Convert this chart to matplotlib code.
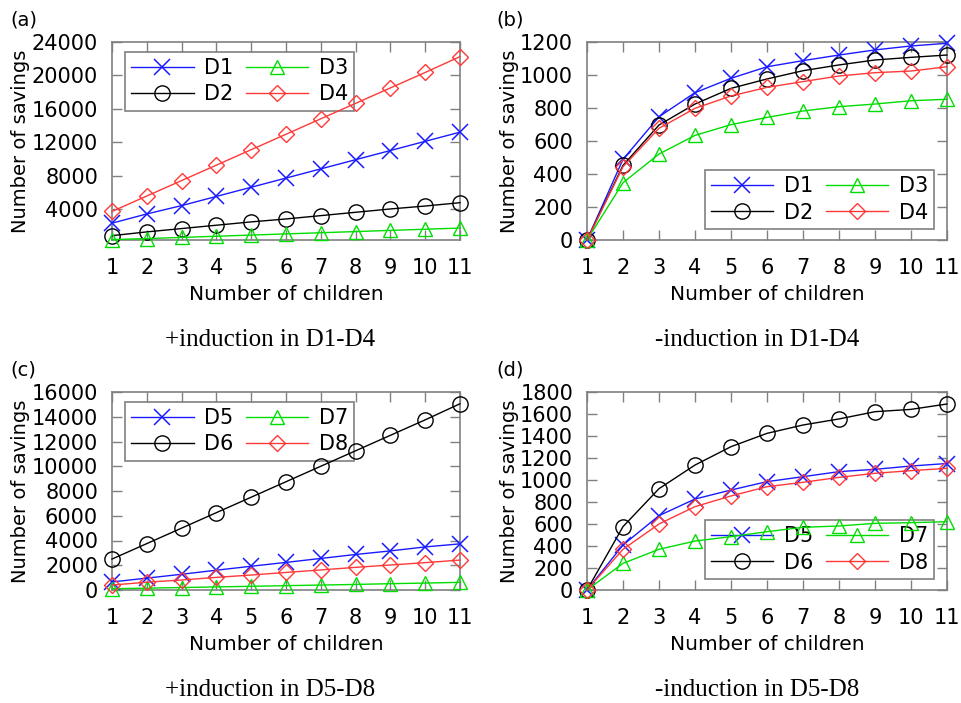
import numpy as np
import matplotlib
matplotlib.use('Agg')
import matplotlib.pyplot as plt

# data
children = [1, 2, 3, 4, 5, 6, 7, 8, 9, 10, 11]

# (a) +induction in D1-D4
a_d1 = [2300, 3400, 4400, 5500, 6600, 7700, 8800, 9900, 11000, 12100, 13200]
a_d2 = [800, 1250, 1650, 2050, 2450, 2800, 3200, 3600, 4000, 4350, 4750]
a_d3 = [330, 450, 590, 730, 870, 1010, 1150, 1290, 1430, 1570, 1710]
a_d4 = [3700, 5550, 7400, 9250, 11100, 12950, 14800, 16650, 18500, 20350, 22250]

# (b) -induction in D1-D4
b_d1 = [0, 489, 747, 893, 980, 1050, 1087, 1121, 1152, 1176, 1192]
b_d2 = [0, 452, 697, 824, 919, 976, 1026, 1061, 1091, 1107, 1121]
b_d3 = [0, 347, 521, 634, 699, 743, 782, 808, 824, 844, 853]
b_d4 = [0, 444, 677, 798, 873, 925, 960, 994, 1014, 1024, 1050]

# (c) +induction in D5-D8
c_d5 = [650, 960, 1270, 1600, 1920, 2230, 2550, 2870, 3160, 3480, 3730]
c_d6 = [2500, 3750, 5000, 6250, 7500, 8750, 10000, 11250, 12500, 13750, 15050]
c_d7 = [100, 150, 200, 250, 300, 350, 400, 450, 510, 560, 620]
c_d8 = [400, 630, 810, 1020, 1210, 1420, 1620, 1830, 2020, 2210, 2420]

# (d) -induction in D5-D8
d_d5 = [0, 409, 676, 827, 909, 985, 1030, 1076, 1097, 1127, 1150]
d_d6 = [0, 576, 921, 1136, 1303, 1424, 1500, 1555, 1621, 1642, 1691]
d_d7 = [0, 242, 370, 445, 485, 530, 570, 582, 606, 612, 621]
d_d8 = [0, 370, 600, 758, 855, 939, 979, 1024, 1061, 1085, 1106]

STYLES = [
    dict(color='#1a1aff', marker='x', ms=12, mew=1.1),
    dict(color='#000000', marker='o', ms=11, mfc='none', mew=1.0),
    dict(color='#00dd00', marker='^', ms=10, mfc='none', mew=1.0),
    dict(color='#ff3838', marker='D', ms=8, mfc='none', mew=1.0),
]
FRAME = '#808080'
FS = 15

W, H = 962, 703
fig = plt.figure(figsize=(W / 100, H / 100), dpi=100)


def px_axes(left, top, right, bottom):
    return fig.add_axes([left / W, 1 - bottom / H, (right - left) / W, (bottom - top) / H])


def panel(ax, series, names, ylim, yticks, leg_anchor, leg_loc, tag, caption, tag_x, cap_x, top_y):
    for values, name, st in zip(series, names, STYLES):
        ax.plot(children, values, label=name, lw=1.0, clip_on=False, zorder=3, **st)

    ax.set_xlim(1, 11)
    ax.set_ylim(*ylim)
    ax.set_xticks(children)
    ax.set_yticks(yticks)
    ax.tick_params(direction='in', length=7, width=1, color=FRAME, top=True, right=True,
                   labelsize=FS)
    ax.tick_params(axis='x', pad=13)
    ax.tick_params(axis='y', pad=10)
    for sp in ax.spines.values():
        sp.set_color(FRAME)
        sp.set_linewidth(1.2)
    ax.set_xlabel('Number of children', fontsize=14.5, labelpad=5)
    ax.set_ylabel('Number of savings', fontsize=14, labelpad=1)

    leg = ax.legend(ncol=2, loc=leg_loc, bbox_to_anchor=leg_anchor, fontsize=15,
                    fancybox=False, edgecolor=FRAME, framealpha=1, handlelength=3.0,
                    columnspacing=0.6, handletextpad=0.5, labelspacing=0.3,
                    borderpad=0.3, borderaxespad=0)
    leg.get_frame().set_linewidth(1.2)
    leg.set_zorder(1)

    fig.text(tag_x / W, 1 - top_y / H, tag, fontsize=14, ha='left', va='center')
    fig.text(cap_x / W, 1 - (top_y + 320) / H, caption, fontsize=18,
             family='Liberation Serif', ha='center', va='center')


ax_a = px_axes(112, 42, 460, 240)
panel(ax_a, [a_d1, a_d2, a_d3, a_d4], ['D1', 'D2', 'D3', 'D4'],
      (280, 24000), [4000, 8000, 12000, 16000, 20000, 24000],
      (0.037, 0.95), 'upper left', '(a)', '+induction in D1-D4', 10, 270, 20)

ax_b = px_axes(587, 42, 947, 240)
panel(ax_b, [b_d1, b_d2, b_d3, b_d4], ['D1', 'D2', 'D3', 'D4'],
      (0, 1200), [0, 200, 400, 600, 800, 1000, 1200],
      (0.964, 0.056), 'lower right', '(b)', '-induction in D1-D4', 496, 757, 20)

ax_c = px_axes(112, 392, 460, 590)
panel(ax_c, [c_d5, c_d6, c_d7, c_d8], ['D5', 'D6', 'D7', 'D8'],
      (0, 16000), list(range(0, 16001, 2000)),
      (0.037, 0.95), 'upper left', '(c)', '+induction in D5-D8', 10, 270, 370)

ax_d = px_axes(587, 392, 947, 590)
panel(ax_d, [d_d5, d_d6, d_d7, d_d8], ['D5', 'D6', 'D7', 'D8'],
      (0, 1800), list(range(0, 1801, 200)),
      (0.964, 0.056), 'lower right', '(d)', '-induction in D5-D8', 496, 757, 370)

fig.savefig('out.png', dpi=100)
